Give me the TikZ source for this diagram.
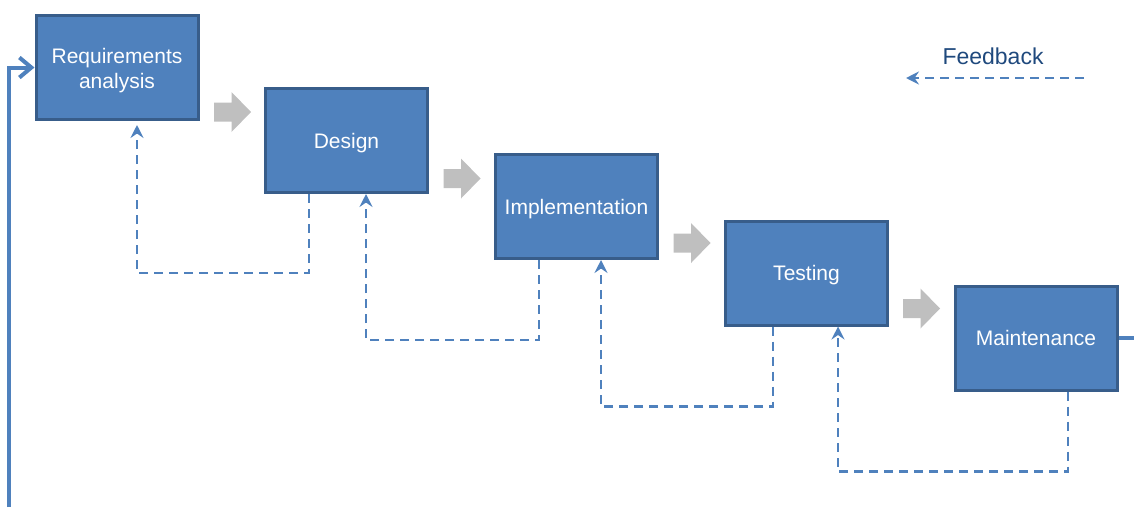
\documentclass[tikz,border=0pt]{standalone}
\usepackage{fontspec}
\setmainfont{Liberation Sans}
\usetikzlibrary{arrows.meta,calc}
\definecolor{boxfill}{HTML}{4F81BD}
\definecolor{boxline}{HTML}{385D8A}
\definecolor{flow}{HTML}{BFBFBF}
\definecolor{fbtext}{HTML}{1F497D}
\begin{document}
\begin{tikzpicture}[x=1pt,y=-1pt,
  stage/.style={draw=boxline, line width=3pt, fill=boxfill,
    minimum width=162pt, minimum height=104pt, inner sep=0pt,
    text=white, align=center, text depth=0pt, font=\fontsize{21}{25}\selectfont},
  stagetext/.style={text=white, align=center, inner sep=0pt, font=\fontsize{21}{25}\selectfont},
  fb/.style={draw=boxfill, line width=2.3pt, dash pattern=on 9pt off 6pt,
    -{Stealth[length=13pt,width=13pt,inset=4.5pt]}},
  loopline/.style={draw=boxfill, line width=4pt},
  flowpic/.pic={\fill[flow] (-18.5,-9.5) -- (-1,-9.5) -- (-1,-20) -- (18.5,0)
     -- (-1,20) -- (-1,9.5) -- (-18.5,9.5) -- cycle;}]
\useasboundingbox (0,0) rectangle (1134,507);

\node[stage, label={[stagetext, yshift=-3pt]center:Requirements\\analysis}] (req) at (117,67.5) {};
\node[stage] (design) at (346.5,140.5) {Design};
\node[stage] (impl) at (576.5,206.5) {Implementation};
\node[stage] (test) at (806.5,273) {Testing};
\node[stage] (maint) at (1036,338) {Maintenance};

% flow arrows
\path (232.5,112) pic {flowpic};
\path (462,178.5) pic {flowpic};
\path (692,243) pic {flowpic};
\path (921.5,308.5) pic {flowpic};

% feedback loops
\draw[fb, shorten >=4pt] ([xshift=-37.5pt]design.south) -- ++(0,79) -| ([xshift=20pt]req.south);
\draw[fb] ([xshift=-37.5pt]impl.south) -- ++(0,80) -| ([xshift=19.5pt]design.south);
\draw[fb] ([xshift=-33.5pt]test.south) -- ++(0,80) -| ([xshift=24.5pt]impl.south);
\draw[fb] ([xshift=32pt]maint.south) -- ++(0,80) -| ([xshift=31.5pt]test.south);

% legend
\node[text=fbtext, font=\fontsize{23}{27}\selectfont] (fblabel) at (993,56) {Feedback};
\coordinate (fbstart) at (1084,78);
\coordinate (fbend) at (906,78);
\draw[fb] (fbstart) -- (fbend);

% outer loop
\coordinate (loopbot) at (9,507);
\coordinate (loopright) at (1134,338);
\draw[loopline, -{Straight Barb[length=12pt,width=20pt]}] (loopbot) |- (req.west);
\draw[loopline] (maint.east) -- (loopright);
\end{tikzpicture}
\end{document}
